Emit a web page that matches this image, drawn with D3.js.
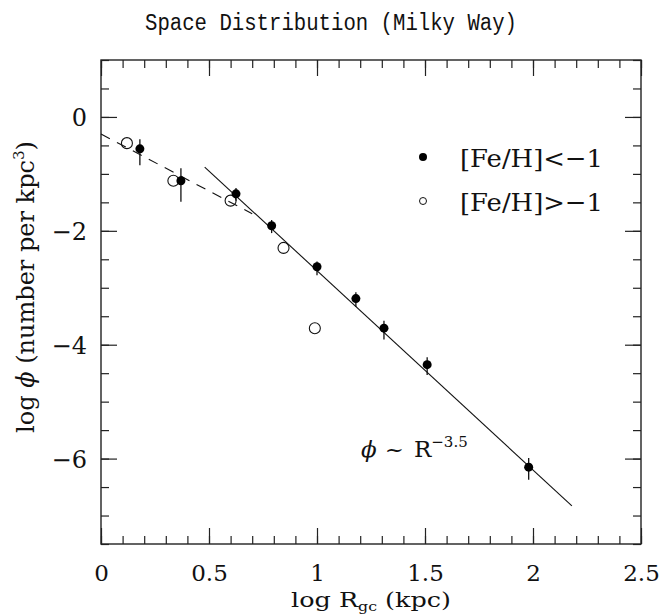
<!DOCTYPE html>
<html>
<head>
<meta charset="utf-8">
<script src="https://cdn.jsdelivr.net/npm/d3@7"></script>
<style>
  body { margin: 0; background: #fff; }
  svg { display: block; }
  text { font-family: "DejaVu Serif", serif; fill: #111; }
</style>
</head>
<body>
<svg id="chart" width="662" height="616"></svg>
<script>
// [Fe/H] < -1 (filled points)
const metalPoorX = [0.18, 0.37, 0.625, 0.79, 1.0, 1.18, 1.31, 1.51, 1.98];
const metalPoorY = [-0.56, -1.12, -1.35, -1.91, -2.63, -3.19, -3.71, -4.35, -6.15];
const metalPoorErrUp = [0.17, 0.22, 0.10, 0.10, 0.09, 0.11, 0.13, 0.13, 0.16];
const metalPoorErrDown = [0.29, 0.37, 0.12, 0.13, 0.15, 0.15, 0.20, 0.18, 0.22];

// [Fe/H] > -1 (open points)
const metalRichX = [0.12, 0.335, 0.60, 0.845, 0.99];
const metalRichY = [-0.46, -1.12, -1.47, -2.30, -3.71];

// fitted lines (end points)
const haloFit = [[0.48, -0.88], [2.18, -6.83]];   // phi ~ R^-3.5
const diskFit = [[0.0, -0.30], [0.70, -1.70]];    // dashed

const xMajor = [0, 0.5, 1, 1.5, 2, 2.5];
const xMinor = d3.range(0, 2.501, 0.1);
const yMajor = [-6, -4, -2, 0];
const yMinor = d3.range(-7.5, 1.001, 0.5);

const margin = {top: 60, right: 21, bottom: 72, left: 101};
const width = 662 - margin.left - margin.right;
const height = 616 - margin.top - margin.bottom;

const svg = d3.select('#chart');
const g = svg.append('g')
  .attr('transform', `translate(${margin.left},${margin.top})`);

const x = d3.scaleLinear().domain([0, 2.5]).range([0, width]);
const y = d3.scaleLinear().domain([-7.5, 1]).range([height, 0]);

// ticks on all four sides, pointing inward
function drawAxis(axis, tx, ty, labels) {
  const a = g.append('g')
    .attr('transform', `translate(${tx},${ty})`)
    .call(axis);
  a.select('.domain').remove();
  a.selectAll('line').attr('stroke', '#222').attr('stroke-width', 1.2);
  if (!labels) a.selectAll('text').remove();
  return a;
}

const fmt = d3.format('~g');

const bottomAxis = drawAxis(d3.axisBottom(x).tickValues(xMajor).tickSize(-16).tickFormat(fmt), 0, height, true);
bottomAxis.selectAll('text')
  .attr('y', 37).attr('dy', null)
  .style('font-size', '23px').style('font-family', '"DejaVu Serif", serif').attr('fill', '#111');
drawAxis(d3.axisBottom(x).tickValues(xMinor).tickSize(-8), 0, height, false);
drawAxis(d3.axisTop(x).tickValues(xMajor).tickSize(-16), 0, 0, false);
drawAxis(d3.axisTop(x).tickValues(xMinor).tickSize(-8), 0, 0, false);

const leftAxis = drawAxis(d3.axisLeft(y).tickValues(yMajor).tickSize(-16).tickFormat(d3.format('d')), 0, 0, true);
leftAxis.selectAll('text')
  .attr('x', -14).attr('dy', '0.36em')
  .style('font-size', '24px').style('font-family', '"DejaVu Serif", serif').attr('fill', '#111');
drawAxis(d3.axisLeft(y).tickValues(yMinor).tickSize(-8), 0, 0, false);
drawAxis(d3.axisRight(y).tickValues(yMajor).tickSize(-16), width, 0, false);
drawAxis(d3.axisRight(y).tickValues(yMinor).tickSize(-8), width, 0, false);

// frame
g.append('rect')
  .attr('width', width).attr('height', height)
  .attr('fill', 'none').attr('stroke', '#222').attr('stroke-width', 1.4);

const line = d3.line().x(d => x(d[0])).y(d => y(d[1]));

g.append('path')
  .datum(haloFit)
  .attr('d', line)
  .attr('fill', 'none').attr('stroke', '#111').attr('stroke-width', 1.1);

g.append('path')
  .datum(diskFit)
  .attr('d', line)
  .attr('fill', 'none').attr('stroke', '#111').attr('stroke-width', 1.1)
  .attr('stroke-dasharray', '10,8');

// open points
g.selectAll('.rich')
  .data(metalRichX.map((v, i) => ({x: v, y: metalRichY[i]})))
  .join('circle')
  .attr('class', 'rich')
  .attr('cx', d => x(d.x)).attr('cy', d => y(d.y))
  .attr('r', 5.5)
  .attr('fill', 'none').attr('stroke', '#111').attr('stroke-width', 1.1);

const poor = metalPoorX.map((v, i) => ({
  x: v, y: metalPoorY[i], up: metalPoorErrUp[i], down: metalPoorErrDown[i]
}));

// error bars
g.selectAll('.err')
  .data(poor)
  .join('line')
  .attr('class', 'err')
  .attr('x1', d => x(d.x)).attr('x2', d => x(d.x))
  .attr('y1', d => y(d.y + d.up)).attr('y2', d => y(d.y - d.down))
  .attr('stroke', '#111').attr('stroke-width', 1.3);

g.selectAll('.poor')
  .data(poor)
  .join('circle')
  .attr('class', 'poor')
  .attr('cx', d => x(d.x)).attr('cy', d => y(d.y))
  .attr('r', 4.5)
  .attr('fill', '#000');

// legend
svg.append('circle').attr('cx', 423).attr('cy', 157).attr('r', 4).attr('fill', '#000');
svg.append('text').attr('x', 460).attr('y', 167)
  .attr('textLength', 143).attr('lengthAdjust', 'spacingAndGlyphs')
  .style('font-size', '25px').text('[Fe/H]<\u22121');
svg.append('circle').attr('cx', 423).attr('cy', 201).attr('r', 3.5)
  .attr('fill', 'none').attr('stroke', '#111').attr('stroke-width', 1);
svg.append('text').attr('x', 460).attr('y', 211)
  .attr('textLength', 143).attr('lengthAdjust', 'spacingAndGlyphs')
  .style('font-size', '25px').text('[Fe/H]>\u22121');

// annotation
const note = svg.append('text').attr('x', 361).attr('y', 457).style('font-size', '23px');
note.append('tspan').style('font-style', 'italic').text('\u03d5');
note.append('tspan').attr('dx', 8).text('~');
note.append('tspan').attr('dx', 10).text('R');
note.append('tspan').attr('dy', -10).style('font-size', '15px').text('\u22123.5');

// title
svg.append('text')
  .attr('x', 331).attr('y', 30)
  .attr('text-anchor', 'middle')
  .attr('textLength', 372).attr('lengthAdjust', 'spacingAndGlyphs')
  .style('font-family', '"Liberation Mono", monospace')
  .style('font-size', '23px')
  .text('Space Distribution (Milky Way)');

// x label
const xl = svg.append('text')
  .attr('x', 371).attr('y', 607)
  .attr('text-anchor', 'middle')
  .attr('textLength', 160).attr('lengthAdjust', 'spacingAndGlyphs')
  .style('font-size', '21px');
xl.append('tspan').text('log R');
xl.append('tspan').attr('dy', 4).style('font-size', '13px').text('gc');
xl.append('tspan').attr('dy', -4).text(' (kpc)');

// y label
const yl = svg.append('text')
  .attr('transform', 'translate(34,287) rotate(-90)')
  .attr('text-anchor', 'middle')
  .style('font-size', '24px');
yl.append('tspan').text('log ');
yl.append('tspan').style('font-style', 'italic').text('\u03d5');
yl.append('tspan').text(' (number per kpc');
yl.append('tspan').attr('dy', -10).style('font-size', '15px').text('3');
yl.append('tspan').attr('dy', 10).text(')');
</script>
</body>
</html>
